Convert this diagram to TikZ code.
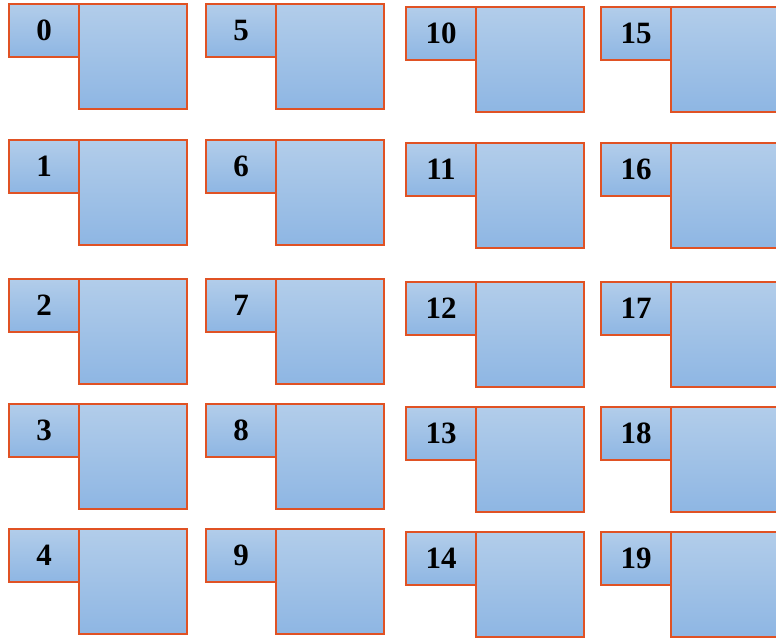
\documentclass[tikz,border=0pt]{standalone}
\usepackage{fontspec}
\setmainfont{Liberation Serif}
\usetikzlibrary{calc}
\definecolor{boxtop}{RGB}{178,205,234}
\definecolor{boxbot}{RGB}{142,182,227}
\definecolor{boxline}{RGB}{224,82,36}
\tikzset{
  numbox/.style={draw=boxline, line width=2pt, top color=boxtop, bottom color=boxbot,
    minimum width=70pt, minimum height=53pt, inner sep=0pt, anchor=north west,
    font=\fontsize{31}{31}\selectfont\bfseries, text=black},
  bigbox/.style={draw=boxline, line width=2pt, top color=boxtop, bottom color=boxbot,
    minimum width=108pt, minimum height=105pt, inner sep=0pt, anchor=north west}
}
\begin{document}
\begin{tikzpicture}[x=1pt,y=-1pt]
\useasboundingbox (0,0) rectangle (776,637);
\foreach \c/\xs/\dy in {0/8/0,1/205/0,2/405/3,3/600/3}{
  \foreach \r/\yt in {0/3,1/139,2/278,3/403,4/528}{
    \pgfmathtruncatemacro{\n}{\c*5+\r}
    \node[bigbox] (b\n) at (\xs+70,\yt+\dy) {};
    \node[numbox] (n\n) at (\xs,\yt+\dy) {\n};
  }
}
\end{tikzpicture}
\end{document}
